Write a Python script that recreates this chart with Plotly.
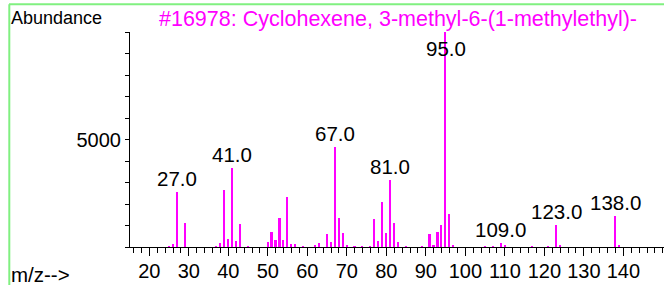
import plotly.graph_objects as go

# ---- data ----
mz = [25, 26, 27, 29, 37, 38, 39, 40, 41, 42, 43, 45, 50, 51, 52, 53, 54, 55, 56, 57,
      59, 62, 63, 65, 66, 67, 68, 69, 70, 72, 74, 76, 77, 78, 79, 80, 81, 82, 83, 85,
      89, 91, 92, 93, 94, 95, 96, 97, 105, 107, 109, 110, 117, 121, 123, 124, 138, 139]
abundance = [30, 120, 2540, 1110, 40, 190, 2670, 390, 3670, 265, 1085, 30, 215, 700, 325, 1330, 310, 2340, 125, 125,
             40, 50, 200, 620, 215, 4640, 1360, 640, 95, 30, 25, 30, 1290, 295, 2080, 640, 3100, 1100, 235, 25,
             30, 620, 80, 700, 1010, 9999, 1520, 80, 30, 40, 200, 60, 30, 30, 1040, 80, 1430, 110]
labeled_peaks = [27, 41, 67, 81, 95, 109, 123, 138]
x_tick_values = [20, 30, 40, 50, 60, 70, 80, 90, 100, 110, 120, 130, 140]
y_tick_values = [0, 1000, 2000, 3000, 4000, 5000, 6000, 7000, 8000, 9000, 10000]
y_tick_labels = ["", "", "", "", "", "5000", "", "", "", "", ""]
title_text = "#16978: Cyclohexene, 3-methyl-6-(1-methylethyl)-"
y_title = "Abundance"
x_title = "m/z-->"

# ---- layout geometry ----
W, H = 664, 285
ML, MR, MT, MB = 130, 0, 32, 38
PW, PH = W - ML - MR, H - MT - MB
YMAX = 10000
FONT = "Arial, 'Liberation Sans', sans-serif"
PINK = "#ff00ff"
FS = 20.5


def px_x(px):
    return (px - ML) / PW


def px_y(py):
    return (H - MB - py) / PH


fig = go.Figure()
fig.add_trace(go.Bar(x=mz, y=abundance, width=0.42, marker=dict(color=PINK, line=dict(width=0)),
                     hoverinfo="x+y"))

lookup = dict(zip(mz, abundance))
for m in labeled_peaks:
    v = lookup[m]
    fig.add_annotation(x=m, y=min(v, 0.86 * YMAX), text=f"{m:.1f}", showarrow=False,
                       xanchor="center", yanchor="bottom", yshift=0,
                       font=dict(family=FONT, size=FS, color="black"))

fig.add_annotation(xref="paper", yref="paper", x=px_x(9), y=px_y(18), text=y_title,
                   showarrow=False, xanchor="left", yanchor="middle",
                   font=dict(family=FONT, size=18, color="black"))
fig.add_annotation(xref="paper", yref="paper", x=px_x(157), y=px_y(19), text=title_text,
                   showarrow=False, xanchor="left", yanchor="middle",
                   font=dict(family=FONT, size=21.5, color=PINK))
fig.add_annotation(xref="paper", yref="paper", x=px_x(9), y=px_y(274), text=x_title,
                   showarrow=False, xanchor="left", yanchor="middle",
                   font=dict(family=FONT, size=FS, color="black"))

# green frame lines
fig.add_shape(type="line", xref="paper", yref="paper", x0=px_x(9), x1=px_x(W + 2),
              y0=px_y(4.3), y1=px_y(4.3), line=dict(color="#80f080", width=2))
fig.add_shape(type="line", xref="paper", yref="paper", x0=px_x(9.3), x1=px_x(9.3),
              y0=px_y(4.3), y1=px_y(H + 2), line=dict(color="#80f080", width=2))

fig.update_layout(
    width=W, height=H, margin=dict(l=ML, r=MR, t=MT, b=MB),
    paper_bgcolor="white", plot_bgcolor="white", showlegend=False,
    font=dict(family=FONT, size=FS, color="black"), bargap=0,
)
fig.update_xaxes(range=[15.1, 150.3], showgrid=False, zeroline=False,
                 showline=True, linecolor="black", linewidth=1,
                 tickmode="array", tickvals=x_tick_values, ticks="outside",
                 ticklen=8, tickcolor="black", tickwidth=1, ticklabelstandoff=-2,
                 tickfont=dict(family=FONT, size=20, color="black"),
                 minor=dict(dtick=2, tick0=0, ticks="outside", ticklen=5,
                            tickcolor="black", tickwidth=1, showgrid=False))
fig.update_yaxes(range=[0, YMAX], showgrid=False, zeroline=False,
                 showline=True, linecolor="black", linewidth=1,
                 tickmode="array", tickvals=y_tick_values, ticktext=y_tick_labels,
                 ticks="outside", ticklen=4, tickcolor="black", tickwidth=1,
                 tickfont=dict(family=FONT, size=20, color="black"))

fig.write_html("out.html", config={"displayModeBar": False},
               post_script="document.body.style.margin='0';document.body.style.overflow='hidden';")
